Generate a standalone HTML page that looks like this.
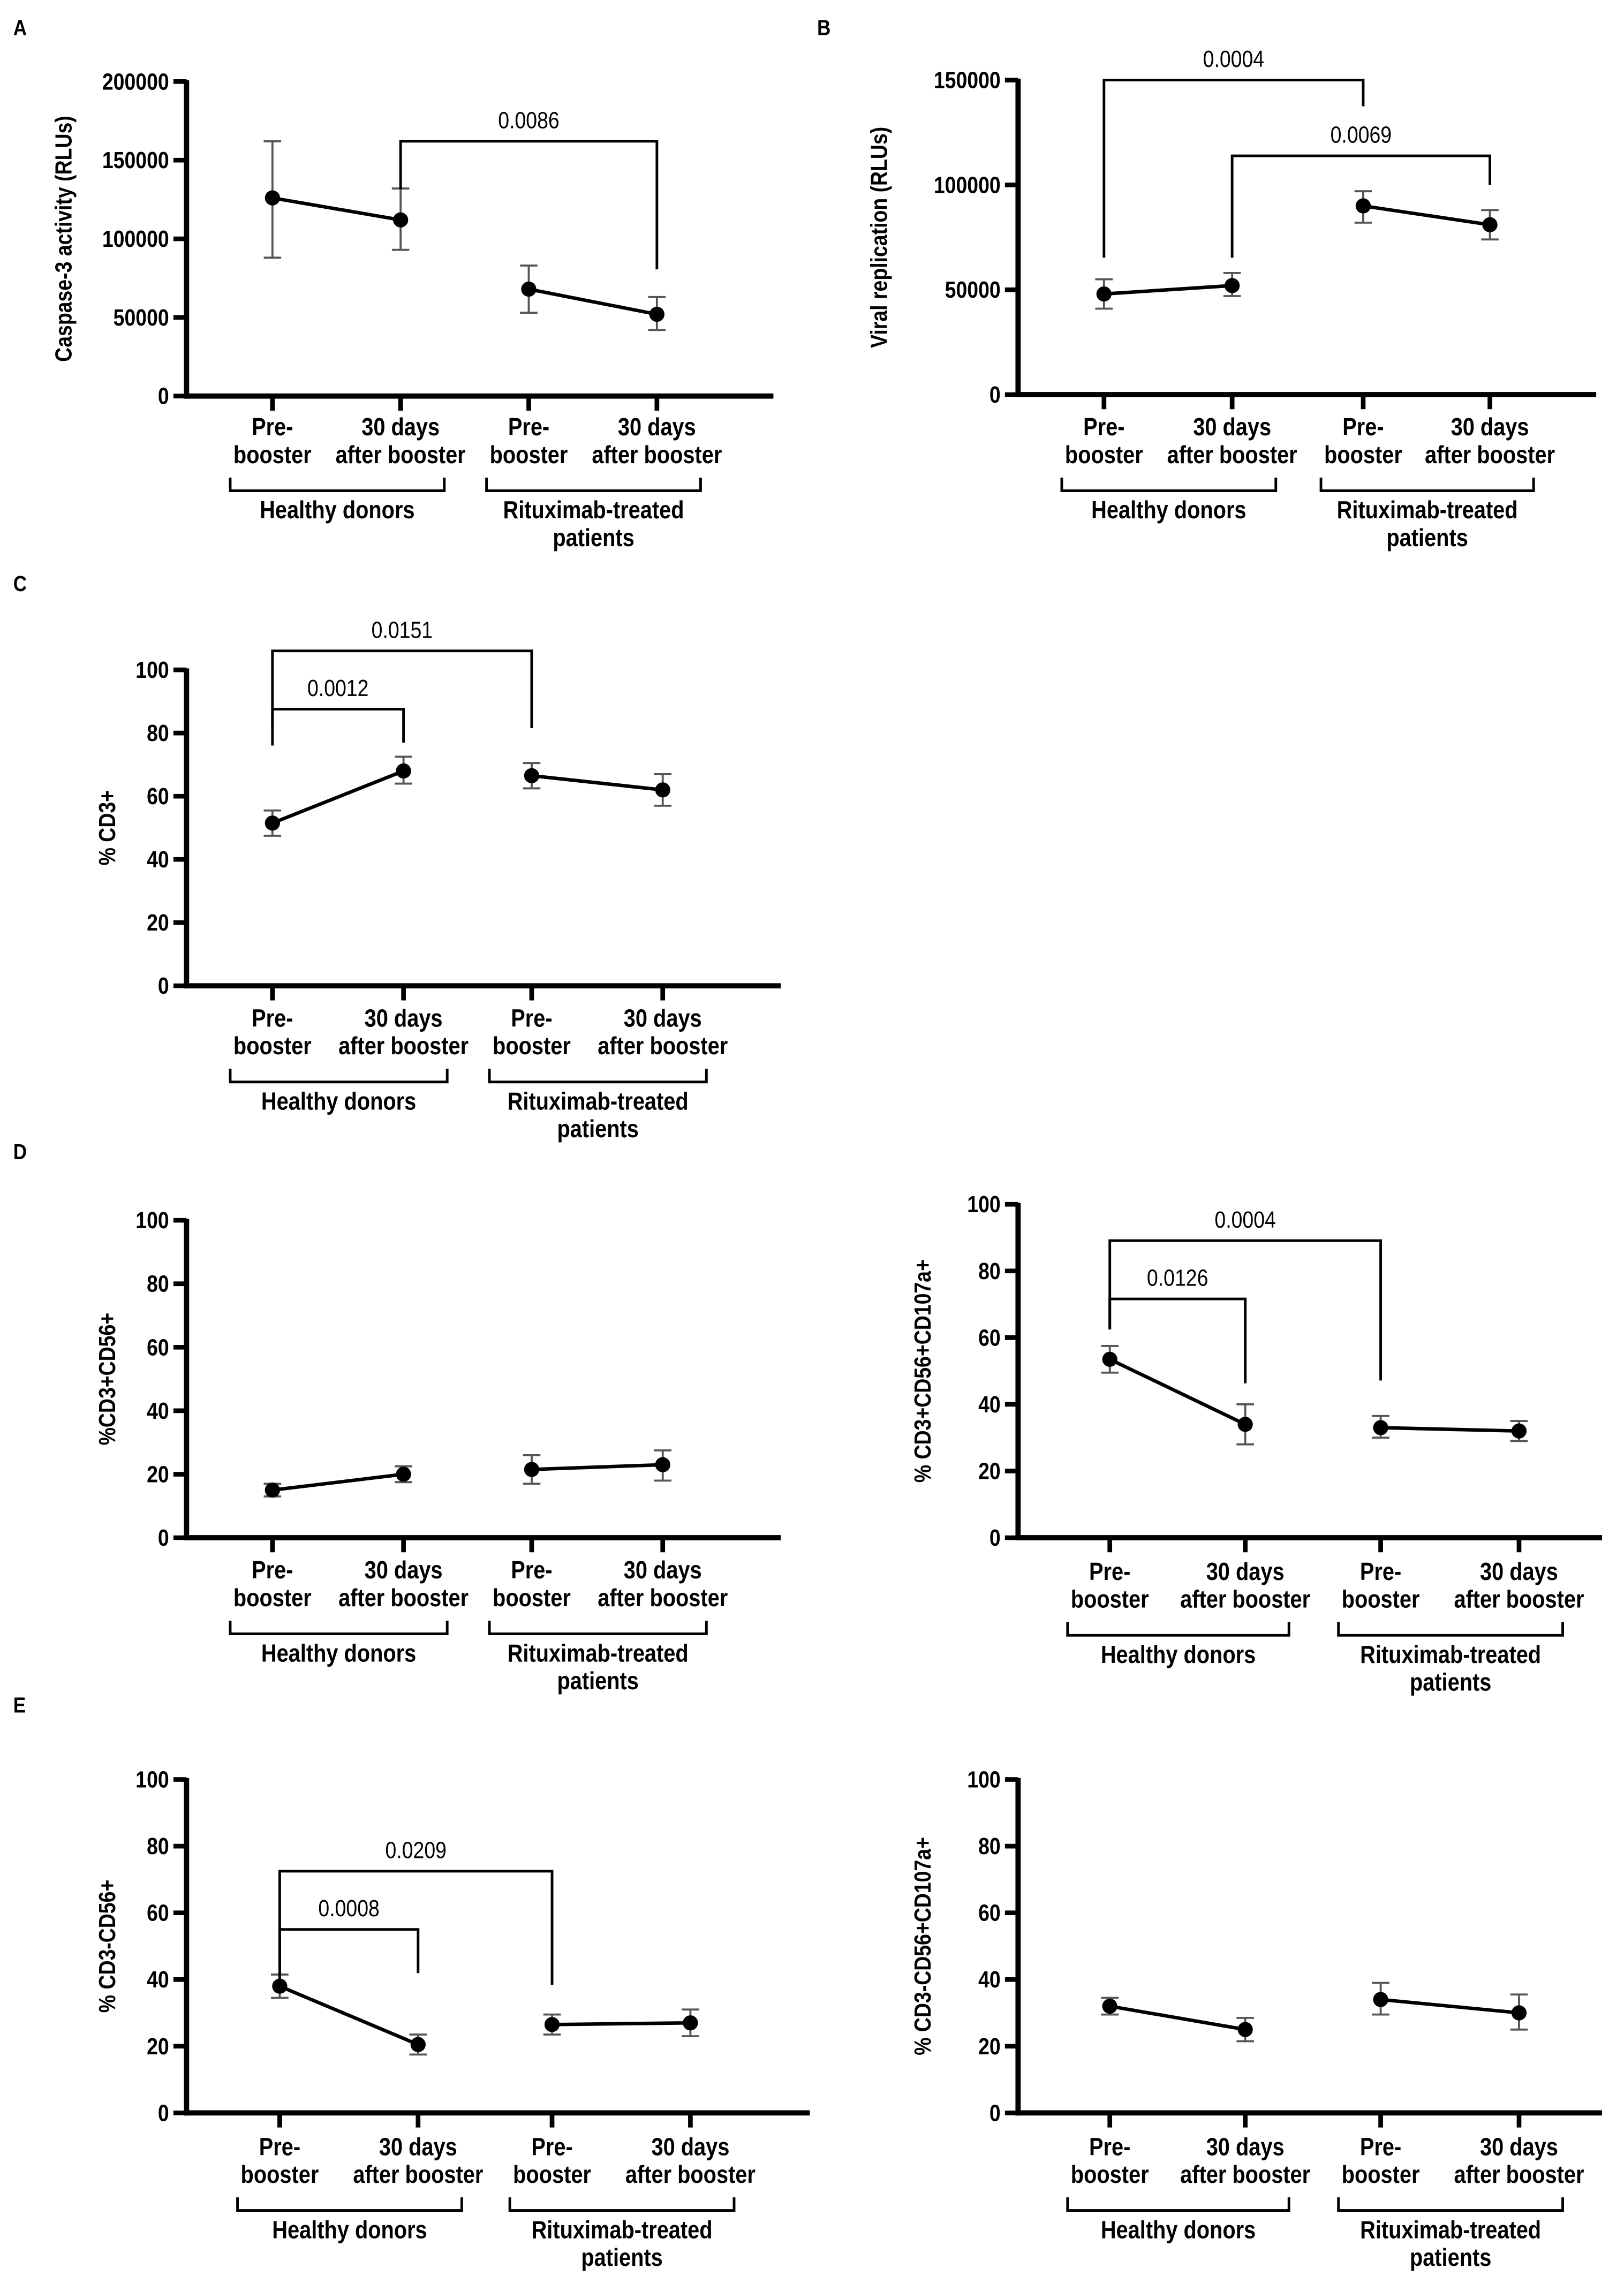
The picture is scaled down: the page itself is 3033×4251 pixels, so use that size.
<!DOCTYPE html>
<html><head><meta charset="utf-8"><style>
html,body{margin:0;padding:0;background:#fff;}
svg{display:block;}
text{font-family:"Liberation Sans Narrow","Liberation Sans",sans-serif;fill:#000;}
</style></head>
<body>
<svg id="fig" xmlns="http://www.w3.org/2000/svg" width="3033" height="4251" viewBox="0 0 1115 1563"></svg>
<script>
const NS="http://www.w3.org/2000/svg";
const categories=["Pre-|booster","30 days|after booster","Pre-|booster","30 days|after booster"];
const groups=["Healthy donors","Rituximab-treated|patients"];
const valsA=[126000,112000,68000,52000], hiA=[162000,132000,83000,63000], loA=[88000,93000,53000,42000];
const valsB=[48000,52000,90000,81000], hiB=[55000,58000,97000,88000], loB=[41000,47000,82000,74000];
const valsC=[51.5,68,66.5,62], hiC=[55.5,72.5,70.5,67], loC=[47.5,64,62.5,57];
const valsD1=[15,20,21.5,23], hiD1=[17,22.5,26,27.5], loD1=[13,17.5,17,18];
const valsD2=[53.5,34,33,32], hiD2=[57.5,40,36.5,35], loD2=[49.5,28,30,29];
const valsE1=[38,20.5,26.5,27], hiE1=[41.5,23.5,29.5,31], loE1=[34.5,17.5,23.5,23];
const valsE2=[32,25,34,30], hiE2=[34.5,28.5,39,35.5], loE2=[29.5,21.5,29.5,25];
const ticksA=[0,50000,100000,150000,200000], ticksB=[0,50000,100000,150000], ticksPct=[0,20,40,60,80,100];
const sigA=[{a:1,b:3,top:97,d1:130,d2:185,p:"0.0086"}];
const sigB=[{a:0,b:2,top:55,d1:177,d2:73,p:"0.0004"},{a:1,b:3,top:107,d1:177,d2:127,p:"0.0069"}];
const sigC=[{a:0,b:1,top:487,d1:512,d2:510,p:"0.0012"},{a:0,b:2,top:447,d1:500,d2:500,p:"0.0151"}];
const sigD2=[{a:0,b:1,top:892,d1:913,d2:950,p:"0.0126"},{a:0,b:2,top:852,d1:913,d2:948,p:"0.0004"}];
const sigE1=[{a:0,b:1,top:1325,d1:1365,d2:1355,p:"0.0008"},{a:0,b:2,top:1285,d1:1365,d2:1363,p:"0.0209"}];
const svg=document.getElementById('fig');
const SX=0.86;
function el(tag,attrs,parent){const e=document.createElementNS(NS,tag);for(const k in attrs)e.setAttribute(k,attrs[k]);(parent||svg).appendChild(e);return e;}
function txt(x,y,s,size,weight,parent,anchor){const t=el('text',{x:0,y:0,'font-size':size,'font-weight':weight,'text-anchor':anchor||'middle',transform:'translate('+x+','+y+') scale('+SX+',1)'},parent);t.textContent=s;return t;}
function panel(p){
  const g=el('g',{});
  
  
  const Y=v=>p.y0-v/p.max*(p.y0-p.yt);
  const X=i=>p.xs[i];
  const ya=el('line',{x1:p.ox,y1:p.yt-1,x2:p.ox,y2:p.y0+1.8,stroke:'#000','stroke-width':3.6},g);
  
  
  const xa=el('line',{x1:p.ox-1.8,y1:p.y0,x2:p.xend,y2:p.y0,stroke:'#000','stroke-width':3.6},g);
  
  
  p.ticks.forEach(t=>{
    el('line',{x1:p.ox-9,y1:Y(t),x2:p.ox,y2:Y(t),stroke:'#000','stroke-width':3.2},g);
    const l=txt(p.ox-12,Y(t)+5.5,String(t),16,'bold',g,'end');
    
    
  });
  const yl=el('text',{x:0,y:0,'font-size':16,'font-weight':'bold','text-anchor':'middle',transform:'translate('+p.ylx+','+((p.yt+p.y0)/2)+') rotate(-90) scale('+SX+',1)'},g);
  yl.textContent=p.ylab;
  
  
  categories.forEach((c,i)=>{
    el('line',{x1:X(i),y1:p.y0,x2:X(i),y2:p.y0+10,stroke:'#000','stroke-width':3.2},g);
    c.split('|').forEach((s,j)=>{const t=txt(X(i),p.ly+j*19,s,17,'bold',g);
      
      });
  });
  [[0,1],[2,3]].forEach((pr,gi)=>{
    const xl=X(pr[0])-29, xr=X(pr[1])+30, by=p.ly+38;
    const b=el('path',{d:'M'+xl+' '+(by-9)+' V'+by+' H'+xr+' V'+(by-9),fill:'none',stroke:'#000','stroke-width':1.8},g);
    
    
    groups[gi].split('|').forEach((s,j)=>{const t=txt((xl+xr)/2,by+19+j*19,s,17,'bold',g);
      
      });
  });
  [[0,1],[2,3]].forEach(pr=>{
    const ln=el('line',{x1:X(pr[0]),y1:Y(p.v[pr[0]]),x2:X(pr[1]),y2:Y(p.v[pr[1]]),stroke:'#000','stroke-width':2.4},g);
    
    
  });
  p.v.forEach((v,i)=>{
    const e=el('path',{d:'M'+X(i)+' '+Y(p.hi[i])+' V'+Y(p.lo[i])+' M'+(X(i)-6)+' '+Y(p.hi[i])+' h12 M'+(X(i)-6)+' '+Y(p.lo[i])+' h12',stroke:'#555','stroke-width':1.4,fill:'none'},g);
    
    
    const c=el('circle',{cx:X(i),cy:Y(v),r:5.2,fill:'#000'},g);
    
    
  });
  (p.sig||[]).forEach(s=>{
    const xa=X(s.a), xb=X(s.b);
    const b=el('path',{d:'M'+xa+' '+s.d1+' V'+s.top+' H'+xb+' V'+s.d2,fill:'none',stroke:'#000','stroke-width':1.8},g);
    
    
    const t=txt((xa+xb)/2,s.top-9,s.p,16,'normal',g);
    
    
  });
}
function letter(x,y,s){const t=txt(x,y,s,15,'bold',svg,'start');
  
  }
letter(9,24,'A');letter(561,24,'B');letter(9,406,'C');letter(9,796,'D');letter(9,1176,'E');
panel({name:'panel-a',ox:128,yt:56,y0:272,max:200000,ticks:ticksA,xs:[187,275,363,451],xend:531,ly:299,ylab:'Caspase-3 activity (RLUs)',ylx:49,v:valsA,hi:hiA,lo:loA,sig:sigA});
panel({name:'panel-b',ox:699,yt:55,y0:271,max:150000,ticks:ticksB,xs:[758,846,936,1023],xend:1096,ly:299,ylab:'Viral replication (RLUs)',ylx:609,v:valsB,hi:hiB,lo:loB,sig:sigB});
panel({name:'panel-c',ox:128,yt:460,y0:677,max:100,ticks:ticksPct,xs:[187,277,365,455],xend:536,ly:705,ylab:'% CD3+',ylx:79,v:valsC,hi:hiC,lo:loC,sig:sigC});
panel({name:'panel-d-left',ox:128,yt:838,y0:1056,max:100,ticks:ticksPct,xs:[187,277,365,455],xend:536,ly:1084,ylab:'%CD3+CD56+',ylx:79,v:valsD1,hi:hiD1,lo:loD1,sig:[]});
panel({name:'panel-d-right',ox:699,yt:827,y0:1056,max:100,ticks:ticksPct,xs:[762,855,948,1043],xend:1100,ly:1085,ylab:'% CD3+CD56+CD107a+',ylx:639,v:valsD2,hi:hiD2,lo:loD2,sig:sigD2});
panel({name:'panel-e-left',ox:128,yt:1222,y0:1451,max:100,ticks:ticksPct,xs:[192,287,379,474],xend:556,ly:1480,ylab:'% CD3-CD56+',ylx:79,v:valsE1,hi:hiE1,lo:loE1,sig:sigE1});
panel({name:'panel-e-right',ox:699,yt:1222,y0:1451,max:100,ticks:ticksPct,xs:[762,855,948,1043],xend:1100,ly:1480,ylab:'% CD3-CD56+CD107a+',ylx:639,v:valsE2,hi:hiE2,lo:loE2,sig:[]});
</script>
</body></html>
